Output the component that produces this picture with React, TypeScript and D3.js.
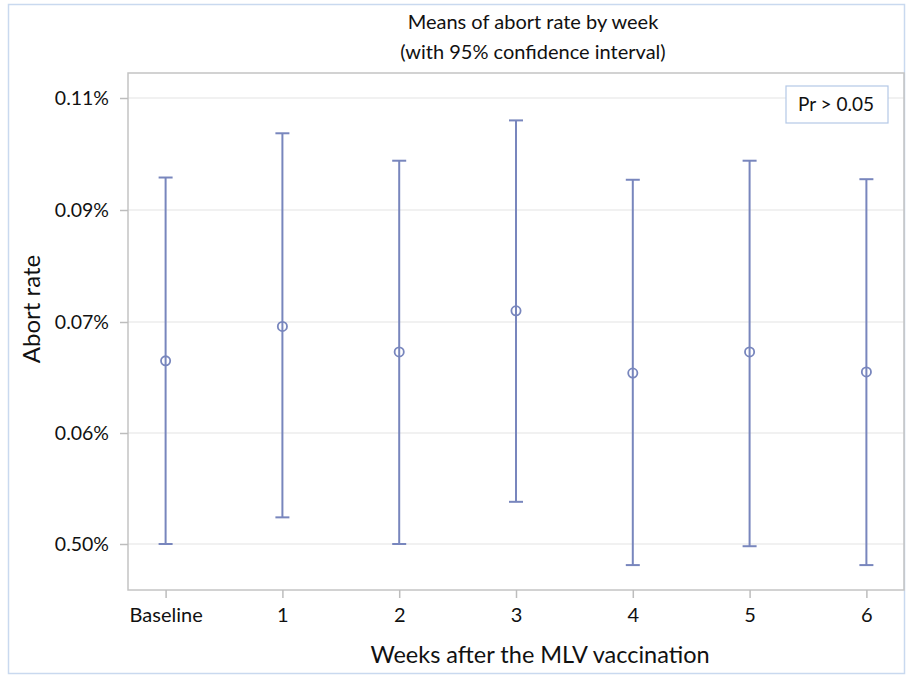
import { useEffect, useRef } from "react";
import * as d3 from "d3";

// weeks after vaccination
const categories = ["Baseline", "1", "2", "3", "4", "5", "6"];
// mean abort rate (%) and 95% CI bounds
const means = [0.0665, 0.0696, 0.0673, 0.072, 0.0654, 0.0673, 0.0655];
const lower = [0.05, 0.0524, 0.05, 0.0538, 0.0481, 0.0498, 0.0481];
const upper = [0.0958, 0.1037, 0.0988, 0.106, 0.0954, 0.0988, 0.0955];
// the axis ticks are not evenly valued, labels as printed
const yTicks = [0.05, 0.06, 0.07, 0.09, 0.11];
const yTickLabels = ["0.50%", "0.06%", "0.07%", "0.09%", "0.11%"];

export default function App() {
  const ref = useRef<SVGSVGElement>(null);

  useEffect(() => {
    const svg = d3.select(ref.current);
    svg.selectAll("*").remove();

    const font = "Lato, 'Open Sans', sans-serif";
    const barColor = "#7886bd";
    const plot = { left: 128, top: 73, right: 904, bottom: 590 };

    // outer frame
    svg.append("rect")
      .attr("x", 8.5).attr("y", 4.5)
      .attr("width", 896).attr("height", 669)
      .attr("fill", "#fff")
      .attr("stroke", "#c9d9ef")
      .attr("stroke-width", 1.5);

    const x = d3.scalePoint<string>()
      .domain(categories)
      .range([plot.left, plot.right])
      .padding(0.322);

    // piecewise scale so the ticks sit evenly apart like in the original
    const y = d3.scaleLinear()
      .domain(yTicks)
      .range([544, 433, 322, 210, 98]);

    // gridlines
    svg.append("g")
      .selectAll("line")
      .data(yTicks)
      .enter()
      .append("line")
      .attr("x1", plot.left).attr("x2", plot.right)
      .attr("y1", d => y(d)).attr("y2", d => y(d))
      .attr("stroke", "#ececec")
      .attr("stroke-width", 1.5);

    // plot frame
    svg.append("rect")
      .attr("x", plot.left).attr("y", plot.top)
      .attr("width", plot.right - plot.left)
      .attr("height", plot.bottom - plot.top)
      .attr("fill", "none")
      .attr("stroke", "#c4c4c4")
      .attr("stroke-width", 1.5);

    // y axis
    const yAxis = d3.axisLeft(y)
      .tickValues(yTicks)
      .tickFormat((d, i) => yTickLabels[i])
      .tickSize(8)
      .tickPadding(11);
    const yg = svg.append("g")
      .attr("transform", `translate(${plot.left},0)`)
      .call(yAxis);
    yg.select(".domain").remove();
    yg.selectAll(".tick line").attr("stroke", "#bdbdbd").attr("stroke-width", 1.5);
    yg.selectAll(".tick text")
      .style("font-family", font)
      .style("font-size", "19.5px")
      .attr("fill", "#111");

    // x axis
    const xAxis = d3.axisBottom(x).tickSize(8).tickPadding(10);
    const xg = svg.append("g")
      .attr("transform", `translate(0,${plot.bottom})`)
      .call(xAxis);
    xg.select(".domain").remove();
    xg.selectAll(".tick line").attr("stroke", "#bdbdbd").attr("stroke-width", 1.5);
    xg.selectAll(".tick text")
      .style("font-family", font)
      .style("font-size", "20px")
      .attr("fill", "#111");

    // error bars
    const g = svg.append("g");
    categories.forEach((c, i) => {
      const cx = x(c) as number;
      g.append("line")
        .attr("x1", cx).attr("x2", cx)
        .attr("y1", y(lower[i])).attr("y2", y(upper[i]))
        .attr("stroke", barColor).attr("stroke-width", 2);
      [lower[i], upper[i]].forEach(v => {
        g.append("line")
          .attr("x1", cx - 7).attr("x2", cx + 7)
          .attr("y1", y(v)).attr("y2", y(v))
          .attr("stroke", barColor).attr("stroke-width", 2);
      });
      g.append("circle")
        .attr("cx", cx).attr("cy", y(means[i]))
        .attr("r", 4.6)
        .attr("fill", "none")
        .attr("stroke", barColor)
        .attr("stroke-width", 1.8);
    });

    // Pr box
    svg.append("rect")
      .attr("x", 786).attr("y", 86)
      .attr("width", 102).attr("height", 37)
      .attr("fill", "#fff")
      .attr("stroke", "#b4c8e6")
      .attr("stroke-width", 1.2);
    svg.append("text")
      .attr("x", 836).attr("y", 111)
      .attr("text-anchor", "middle")
      .style("font-family", font)
      .style("font-size", "19px")
      .attr("fill", "#111")
      .text("Pr > 0.05");

    // titles
    svg.append("text")
      .attr("x", 533).attr("y", 29)
      .attr("text-anchor", "middle")
      .style("font-family", font)
      .style("font-size", "20px")
      .attr("fill", "#111")
      .text("Means of abort rate by week");
    svg.append("text")
      .attr("x", 533).attr("y", 59)
      .attr("text-anchor", "middle")
      .style("font-family", font)
      .style("font-size", "20px")
      .attr("fill", "#111")
      .text("(with 95% confidence interval)");

    svg.append("text")
      .attr("x", 540).attr("y", 663)
      .attr("text-anchor", "middle")
      .style("font-family", font)
      .style("font-size", "23.5px")
      .attr("fill", "#111")
      .text("Weeks after the MLV vaccination");

    svg.append("text")
      .attr("transform", `translate(40,309) rotate(-90)`)
      .attr("text-anchor", "middle")
      .style("font-family", font)
      .style("font-size", "24px")
      .attr("fill", "#111")
      .text("Abort rate");
  }, []);

  return (
    <svg
      ref={ref}
      width={907}
      height={675}
      style={{ position: "absolute", left: 0, top: 0, background: "#fff" }}
    />
  );
}
